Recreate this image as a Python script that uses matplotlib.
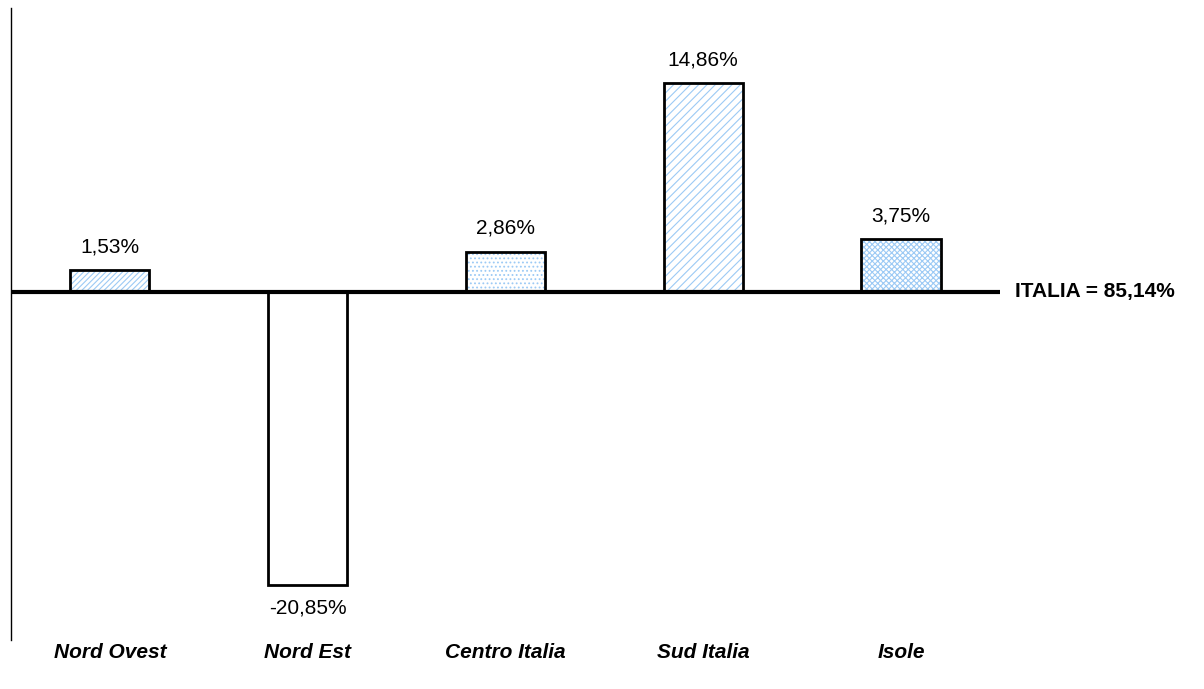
import matplotlib.pyplot as plt
import numpy as np

plt.rcParams['font.family'] = ['Liberation Sans', 'DejaVu Sans']
plt.rcParams['hatch.linewidth'] = 0.8

# scostamenti regionali rispetto al dato nazionale
regioni = ["Nord Ovest", "Nord Est", "Centro Italia", "Sud Italia", "Isole"]
scostamenti = [1.53, -20.85, 2.86, 14.86, 3.75]
etichette = ["1,53%", "-20,85%", "2,86%", "14,86%", "3,75%"]
retini = ["//////", "", "....", "////", "xxxxxx"]
totale = "ITALIA = 85,14%"

fig = plt.figure(figsize=(12.04, 6.89), dpi=100)
ax = fig.add_axes([0.0091, 0.0711, 0.8214, 0.9173])

x = np.arange(len(regioni))
larghezza = 0.40

# prima il retino azzurro, poi il bordo nero sopra
for i, v in enumerate(scostamenti):
    if retini[i]:
        ax.bar(x[i], v, width=larghezza, color='white', edgecolor='#9ccaf5',
               hatch=retini[i], linewidth=0, zorder=2)
ax.bar(x, scostamenti, width=larghezza, fill=False, edgecolor='black',
       linewidth=2, zorder=3)

for i, v in enumerate(scostamenti):
    if v >= 0:
        ax.annotate(etichette[i], (x[i], v), xytext=(0, 10), textcoords='offset points',
                    ha='center', va='bottom', fontsize=15)
    else:
        ax.annotate(etichette[i], (x[i], v), xytext=(0, -10), textcoords='offset points',
                    ha='center', va='top', fontsize=15)

ax.axhline(0, color='black', linewidth=3, zorder=4)
ax.text(1.015, 0, totale, transform=ax.get_yaxis_transform(), ha='left', va='center',
        fontsize=15, fontweight='bold')

ax.set_xlim(-0.5, 4.5)
ax.set_ylim(-24.8, 20.2)
ax.set_yticks([])
ax.set_xticks(x)
ax.set_xticklabels(regioni, fontsize=15, fontweight='bold', fontstyle='italic')
ax.tick_params(axis='x', length=0, pad=2)
for lato in ['top', 'right', 'bottom']:
    ax.spines[lato].set_visible(False)
ax.spines['left'].set_linewidth(1)

fig.savefig('out.png', dpi=100)
